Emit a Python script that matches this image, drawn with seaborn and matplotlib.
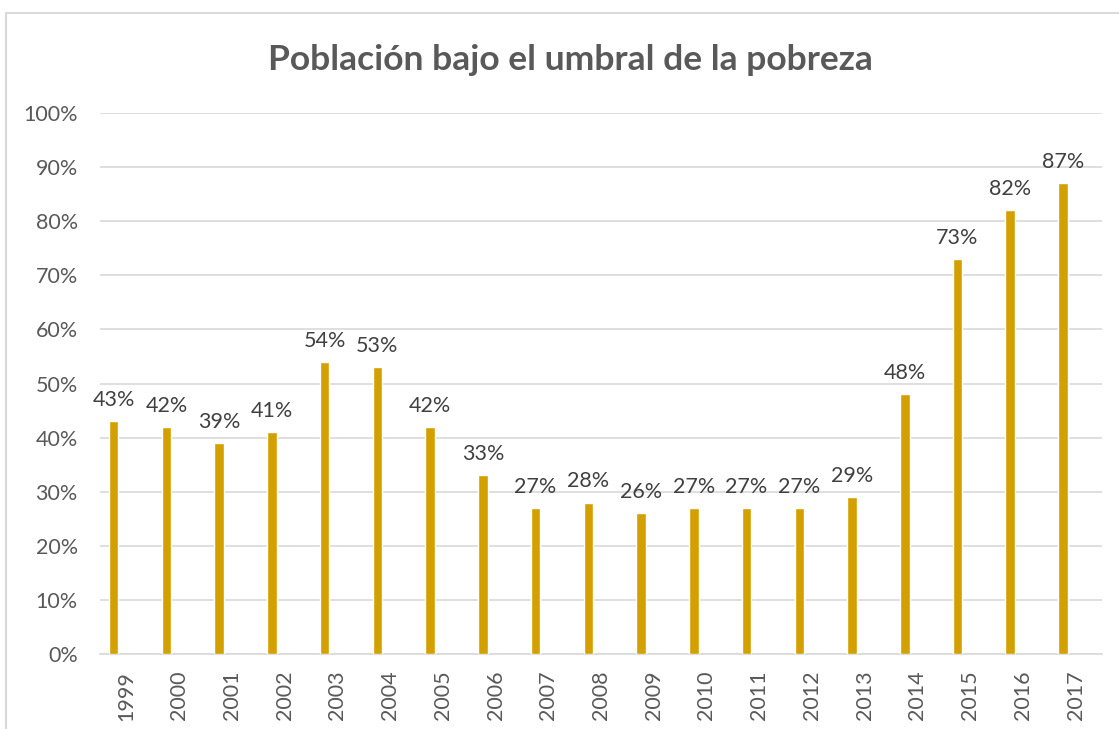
import matplotlib
matplotlib.use("Agg")
import matplotlib.pyplot as plt
import seaborn as sns
from matplotlib.patches import Rectangle
from matplotlib.ticker import PercentFormatter

# ------------------------------------------------------------
# DATEN
# ------------------------------------------------------------
TITLE = "Población bajo el umbral de la pobreza"
YEARS = ["1999", "2000", "2001", "2002", "2003", "2004", "2005", "2006", "2007",
         "2008", "2009", "2010", "2011", "2012", "2013", "2014", "2015", "2016", "2017"]
POBREZA = [0.43, 0.42, 0.39, 0.41, 0.54, 0.53, 0.42, 0.33, 0.27,
           0.28, 0.26, 0.27, 0.27, 0.27, 0.29, 0.48, 0.73, 0.82, 0.87]

BAR_COLOR = "#D4A000"
GRID = "#D9D9D9"
TICK_TXT = "#595959"
LABEL_TXT = "#404040"

sns.set_theme(style="white")
plt.rcParams["font.family"] = ["Lato", "DejaVu Sans"]

fig = plt.figure(figsize=(11.19, 7.29), dpi=100)
ax = fig.add_axes([100 / 1119, 75 / 729, 1002 / 1119, 541 / 729])

sns.barplot(x=YEARS, y=POBREZA, color=BAR_COLOR, width=0.18,
            saturation=1, ax=ax, zorder=3)

# Balken wie im Original leicht links vom Kategorien-Zentrum
for p in ax.patches:
    p.set_x(p.get_x() - 0.24)

ax.bar_label(ax.containers[0], labels=[f"{v*100:.0f}%" for v in POBREZA],
             padding=8, fontsize=15.5, color=LABEL_TXT)

ax.set_xlim(-0.5, len(YEARS) - 0.5)
ax.set_ylim(0, 1)
ax.set_yticks([i / 10 for i in range(11)])
ax.yaxis.set_major_formatter(PercentFormatter(1.0, decimals=0))
ax.grid(axis="y", color=GRID, linewidth=1.2, zorder=0)
ax.set_axisbelow(True)

for s in ["top", "right", "left"]:
    ax.spines[s].set_visible(False)
ax.spines["bottom"].set_color(GRID)
ax.spines["bottom"].set_linewidth(1.2)

ax.tick_params(axis="y", length=0, pad=16, labelsize=15.5, labelcolor=TICK_TXT)
ax.tick_params(axis="x", length=0, pad=12, labelsize=15.5, labelcolor=TICK_TXT,
               labelrotation=90)
ax.set_xlabel("")
ax.set_ylabel("")

fig.text(570 / 1119, 1 - 60 / 729, TITLE, ha="center", va="center",
         fontsize=25.5, fontweight="bold", color="#595959")

# Rahmen des Diagrammbereichs
fig.patches.append(Rectangle((6 / 1119, -0.1), 1.2, 1 - 13 / 729 + 0.1,
                             transform=fig.transFigure, fill=False,
                             edgecolor=GRID, linewidth=1.5))

fig.savefig("out.png", dpi=100, facecolor="white")
